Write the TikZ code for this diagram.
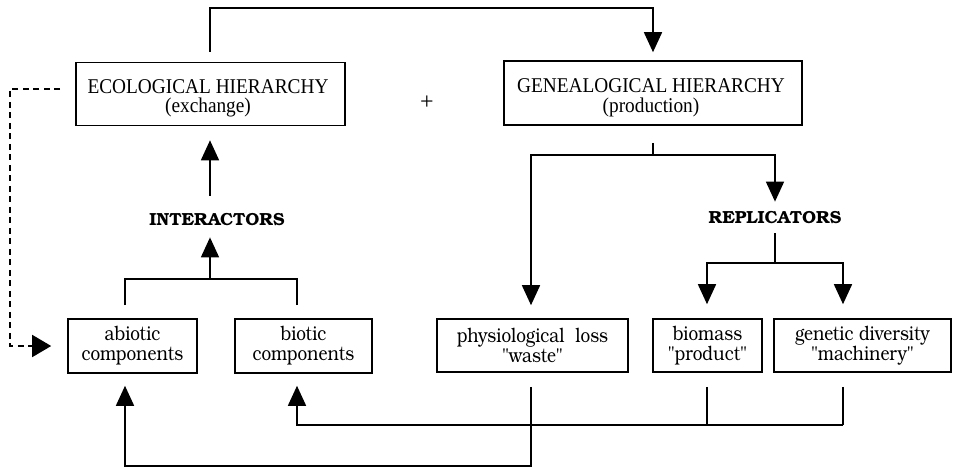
\documentclass[tikz,border=0pt]{standalone}
\usepackage{fontspec}
\setmainfont{Liberation Serif}
\newfontfamily\hierfont[FakeStretch=0.92]{Liberation Serif}
\newfontfamily\boxfont[FakeStretch=0.86]{TeX Gyre Bonum}
\newfontfamily\labfont{TeX Gyre Bonum}
\usetikzlibrary{arrows.meta}
\begin{document}
\begin{tikzpicture}[x=1pt,y=-1pt,
  line/.style={line width=1.6pt, line join=miter},
  arr/.style={line, -{Triangle[length=20pt,width=18pt]}},
  dasharr/.style={line, dash pattern=on 6pt off 4.5pt, -{Triangle[length=19pt,width=22pt]}},
  frame/.style={draw, line width=1.6pt, inner sep=0pt},
  hiertext/.style={inner sep=0pt, align=center,
    font=\hierfont\fontsize{21}{19.5}\selectfont},
  comp/.style={draw, line width=1.6pt, inner sep=0pt, align=center,
    font=\boxfont\fontsize{20}{20}\selectfont},
  lab/.style={inner sep=0pt, font=\labfont\bfseries\fontsize{17.5}{18}\selectfont}]
\useasboundingbox (0,0) rectangle (955,468);

% hierarchy boxes with their two-line titles
\node[frame, minimum width=269pt, minimum height=63pt] (eco) at (210.5,94) {};
\node[hiertext] (ecotext) at (208,98.5) {ECOLOGICAL HIERARCHY\\(exchange)};
\node[frame, minimum width=298pt, minimum height=64pt] (gen) at (653,93) {};
\node[hiertext] (gentext) at (651,98) {GENEALOGICAL HIERARCHY\\(production)};
\node[inner sep=0pt, font=\fontsize{24}{24}\selectfont] (plus) at (427,103) {+};

% labels
\node[lab] (inter) at (217,220) {INTERACTORS};
\node[lab] (rep) at (775,218) {REPLICATORS};

% component boxes
\node[comp, minimum width=129pt, minimum height=54pt] (abio) at (132.5,346)
  {abiotic\\components};
\node[comp, minimum width=137pt, minimum height=54pt] (biot) at (303.5,346)
  {biotic\\components};
\node[comp, minimum width=191pt, minimum height=53pt] (phys) at (532.5,345.5)
  {physiological~~loss\\"waste"};
\node[comp, minimum width=109pt, minimum height=53pt] (bio) at (707.5,345.5)
  {biomass\\"product"};
\node[comp, minimum width=177pt, minimum height=53pt] (gene) at (862.5,345.5)
  {genetic diversity\\"machinery"};

% junction points
\coordinate (top) at (653,8);
\coordinate (gsplit) at (653,155);
\coordinate (rsplit) at (775,263);
\coordinate (isplit) at (210,279);
\coordinate (dl) at (10,200);
\coordinate (bot) at (125,466);
\coordinate (mid) at (843,425);

% ecological to genealogical
\draw[arr, shorten <=10pt, shorten >=8pt] ([xshift=-0.5pt]eco.north) |- (top) -| (gen.north);

% genealogical branches
\draw[line, shorten <=17pt] (gen.south) -- (gsplit);
\draw[arr, shorten >=10pt] (gsplit) -| (rep.north);
\draw[arr, shorten >=13pt] (gsplit) -| ([xshift=-1.5pt]phys.north);

% replicator branches
\draw[line, shorten <=9pt] (rep.south) -- (rsplit);
\draw[arr, shorten >=14pt] (rsplit) -| ([xshift=-0.5pt]bio.north);
\draw[arr, shorten >=14pt] (rsplit) -| ([xshift=-19.5pt]gene.north);

% interactors
\draw[line, shorten <=13pt] ([xshift=-7.5pt]abio.north) |- (isplit);
\draw[line, shorten <=13pt] ([xshift=-6.5pt]biot.north) |- (isplit);
\draw[arr, shorten >=11pt] (isplit) -- (isplit |- inter.south);
\draw[arr, shorten <=18pt, shorten >=14pt] (inter.north -| isplit) -- (eco.south -| isplit);

% dashed feedback
\draw[dasharr, shorten <=15pt, shorten >=16pt] ([yshift=5pt]eco.west) -| (dl) |- (abio.west);

% return flows
\draw[arr, shorten <=14pt, shorten >=12pt] ([xshift=-1.5pt]phys.south) |- (bot) -| ([xshift=-7.5pt]abio.south);
\draw[line, shorten <=14pt] ([xshift=-0.5pt]bio.south) -- ([xshift=-0.5pt]bio.south |- mid);
\draw[line, shorten <=14pt] ([xshift=-19.5pt]gene.south) -- (mid);
\draw[arr, shorten >=12pt] (mid) -| ([xshift=-6.5pt]biot.south);
\end{tikzpicture}
\end{document}
